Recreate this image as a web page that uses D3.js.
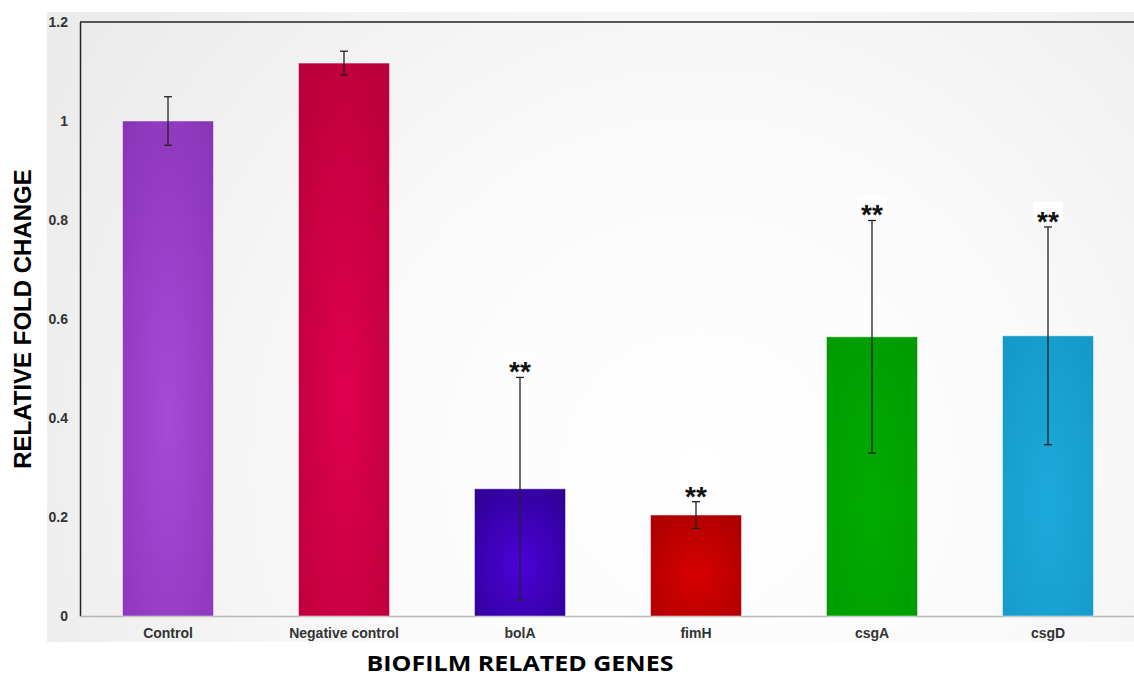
<!DOCTYPE html>
<html>
<head>
<meta charset="utf-8">
<script src="https://cdn.jsdelivr.net/npm/d3@7"></script>
<style>
  body { margin: 0; background: #fff; }
  svg { display: block; }
</style>
</head>
<body>
<div id="chart"></div>
<script>
// data
let genes = ["Control", "Negative control", "bolA", "fimH", "csgA", "csgD"];
let foldChange = [1.0, 1.117, 0.257, 0.204, 0.564, 0.566];
let errors = [0.049, 0.024, 0.225, 0.027, 0.235, 0.22];
let significance = ["", "", "**", "**", "**", "**"];
let yTicks = [0, 0.2, 0.4, 0.6, 0.8, 1, 1.2];
let barColors = [
    ["#a64ad8", "#8a35b8"],
    ["#e0004e", "#b8003a"],
    ["#4c02d8", "#2e0094"],
    ["#d80000", "#aa0000"],
    ["#00ac00", "#009a00"],
    ["#1caadb", "#1499c8"]
];

let width = 1134, height = 676;
let margin = { top: 22, right: -2, bottom: 60, left: 80 };
let plotW = width - margin.left - margin.right,
    plotH = height - margin.top - margin.bottom;

let svg = d3.select("#chart")
    .append("svg")
    .attr("width", width)
    .attr("height", height);

let defs = svg.append("defs");

// light panel behind the chart
let bg = defs.append("radialGradient")
    .attr("id", "bg")
    .attr("gradientUnits", "userSpaceOnUse")
    .attr("cx", 700).attr("cy", 470).attr("r", 750);
bg.append("stop").attr("offset", "0%").attr("stop-color", "#ffffff");
bg.append("stop").attr("offset", "45%").attr("stop-color", "#fafafa");
bg.append("stop").attr("offset", "100%").attr("stop-color", "#ebebeb");

barColors.forEach(function (c, i) {
    let g = defs.append("radialGradient")
        .attr("id", "bar" + i)
        .attr("cx", "50%").attr("cy", "60%").attr("r", "75%");
    g.append("stop").attr("offset", "0%").attr("stop-color", c[0]);
    g.append("stop").attr("offset", "100%").attr("stop-color", c[1]);
});

svg.append("rect")
    .attr("x", 47).attr("y", 12)
    .attr("width", width - 47).attr("height", 630)
    .attr("fill", "url(#bg)");

let g = svg.append("g")
    .attr("transform", "translate(" + margin.left + "," + margin.top + ")");

let x = d3.scaleBand()
    .domain(genes)
    .range([0, 1056])
    .paddingInner(0.483)
    .paddingOuter(0.2415);

let y = d3.scaleLinear()
    .domain([0, 1.2])
    .range([594, 0]);

// top border
g.append("line")
    .attr("x1", 0).attr("x2", plotW)
    .attr("y1", y(1.2)).attr("y2", y(1.2))
    .attr("stroke", "#222").attr("stroke-width", 1.5);

// y axis
let yAxis = g.append("g")
    .call(d3.axisLeft(y).tickValues(yTicks).tickSize(0).tickPadding(12)
        .tickFormat(d3.format("~g")));
yAxis.select(".domain").attr("stroke", "#222").attr("stroke-width", 1.5);
yAxis.selectAll("text")
    .style("font-family", "'Liberation Sans', Arial, sans-serif")
    .style("font-weight", "bold")
    .style("font-size", "14px")
    .attr("fill", "#333");

// x axis
let xAxis = g.append("g")
    .attr("transform", "translate(0," + y(0) + ")")
    .call(d3.axisBottom(x).tickSize(0).tickPadding(12));
xAxis.select(".domain").attr("stroke", "#b8b8b8").attr("stroke-width", 1.5);
xAxis.selectAll("text")
    .style("font-family", "'Liberation Sans', Arial, sans-serif")
    .style("font-weight", "bold")
    .style("font-size", "14px")
    .attr("fill", "#333");

// bars
g.selectAll(".bar")
    .data(genes)
    .enter()
    .append("rect")
    .attr("class", "bar")
    .attr("x", d => x(d))
    .attr("width", x.bandwidth())
    .attr("y", (d, i) => y(foldChange[i]))
    .attr("height", (d, i) => y(0) - y(foldChange[i]))
    .attr("fill", (d, i) => "url(#bar" + i + ")")
    .attr("stroke", "rgba(255,255,255,0.45)")
    .attr("stroke-width", 1);

// error bars
let err = g.selectAll(".err")
    .data(genes)
    .enter()
    .append("g")
    .attr("class", "err")
    .attr("stroke", "#222")
    .attr("stroke-width", 1.3);
err.append("line")
    .attr("x1", d => x(d) + x.bandwidth() / 2)
    .attr("x2", d => x(d) + x.bandwidth() / 2)
    .attr("y1", (d, i) => y(foldChange[i] + errors[i]))
    .attr("y2", (d, i) => y(foldChange[i] - errors[i]));
[1, -1].forEach(function (s) {
    err.append("line")
        .attr("x1", d => x(d) + x.bandwidth() / 2 - 4)
        .attr("x2", d => x(d) + x.bandwidth() / 2 + 4)
        .attr("y1", (d, i) => y(foldChange[i] + s * errors[i]))
        .attr("y2", (d, i) => y(foldChange[i] + s * errors[i]));
});

// significance stars
let stars = g.selectAll(".sig")
    .data(genes.filter((d, i) => significance[i]))
    .enter()
    .append("g")
    .attr("class", "sig")
    .attr("transform", function (d) {
        let i = genes.indexOf(d);
        return "translate(" + (x(d) + x.bandwidth() / 2) + "," + (y(foldChange[i] + errors[i]) - 4) + ")";
    });
stars.append("rect")
    .attr("x", -15).attr("y", -21)
    .attr("width", 30).attr("height", 20)
    .attr("fill", "#fff");
stars.append("text")
    .attr("text-anchor", "middle")
    .attr("y", 8)
    .style("font-family", "'Liberation Sans', Arial, sans-serif")
    .style("font-weight", "bold")
    .style("font-size", "28px")
    .attr("fill", "#111")
    .text(d => significance[genes.indexOf(d)]);

// axis titles
svg.append("text")
    .attr("transform", "translate(31," + (margin.top + y(0.6)) + ") rotate(-90)")
    .attr("text-anchor", "middle")
    .style("font-family", "'Liberation Sans', Arial, sans-serif")
    .style("font-weight", "bold")
    .style("font-size", "24px")
    .attr("fill", "#000")
    .text("RELATIVE FOLD CHANGE");

svg.append("text")
    .attr("x", 520)
    .attr("y", 671)
    .attr("text-anchor", "middle")
    .attr("textLength", 307)
    .attr("lengthAdjust", "spacingAndGlyphs")
    .style("font-family", "'Open Sans', sans-serif")
    .style("font-weight", "bold")
    .style("font-size", "22px")
    .attr("fill", "#000")
    .text("BIOFILM RELATED GENES");
</script>
</body>
</html>
